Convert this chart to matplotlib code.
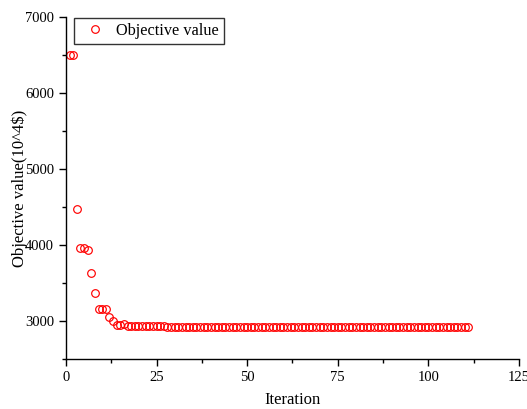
import matplotlib
matplotlib.use("Agg")
import matplotlib.pyplot as plt
from matplotlib.ticker import MultipleLocator

iterations = list(range(1, 112))
objective = [
    6500, 6500, 4470, 3960, 3960, 3930, 3630, 3375, 3155, 3155,
    3155, 3050, 3005, 2950, 2950, 2955, 2940, 2938, 2936, 2935,
    2934, 2933, 2932, 2931, 2930, 2929, 2928, 2927, 2926, 2925,
    2924, 2924, 2923, 2923, 2922, 2922, 2922, 2921, 2921, 2921,
] + [2920] * 71

plt.rcParams['font.family'] = ['Liberation Serif', 'DejaVu Serif']
fig = plt.figure(figsize=(5.27, 4.09), dpi=100)
ax = fig.add_axes([0.1252, 0.1222, 0.8596, 0.8362])
ax.plot(iterations, objective, linestyle='none', marker='o', markersize=5.5,
        markerfacecolor='none', markeredgecolor='#ff0000', markeredgewidth=0.85,
        label='Objective value')
ax.set_xlim(0, 125)
ax.set_ylim(2500, 7000)
ax.xaxis.set_major_locator(MultipleLocator(25))
ax.xaxis.set_minor_locator(MultipleLocator(12.5))
ax.yaxis.set_major_locator(MultipleLocator(1000))
ax.yaxis.set_minor_locator(MultipleLocator(500))
ax.spines['top'].set_visible(False)
ax.spines['right'].set_visible(False)
for s in ('left', 'bottom'):
    ax.spines[s].set_linewidth(1.0)
ax.tick_params(which='major', direction='out', length=5, width=1, labelsize=10.5)
ax.tick_params(which='minor', direction='out', length=3, width=1)
ax.set_xlabel('Iteration', fontsize=12, labelpad=6)
ax.set_ylabel('Objective value(10^4$)', fontsize=12, labelpad=-2)
leg = ax.legend(loc='upper left', fontsize=11.7, frameon=True, fancybox=False,
                edgecolor='black', borderpad=0.3, handletextpad=0.3,
                borderaxespad=0.0, bbox_to_anchor=(0.0177, 0.997))
leg.get_frame().set_linewidth(1.0)
fig.savefig('out.png', dpi=100)
